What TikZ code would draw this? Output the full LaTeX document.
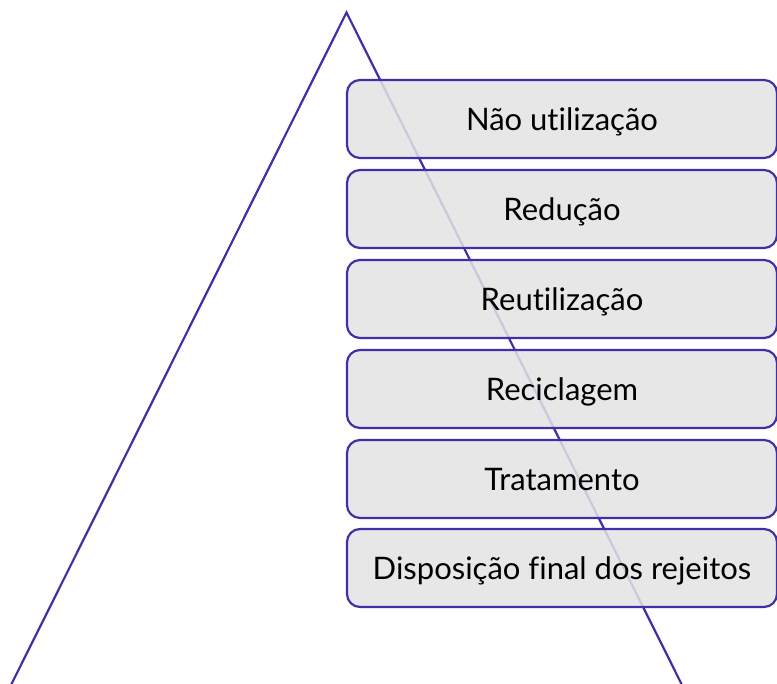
\documentclass[tikz,border=0pt]{standalone}
\usepackage{fontspec}
\setmainfont{Lato}[Ligatures=NoCommon]
\usetikzlibrary{calc}
\definecolor{edge}{RGB}{64,48,168}
\definecolor{boxfill}{RGB}{227,227,227}
\begin{document}
\begin{tikzpicture}[x=1pt,y=-1pt,
  level/.style={draw=edge,line width=2.2pt,fill=boxfill,fill opacity=0.85,text opacity=1,
    rounded corners=13pt,minimum width=430pt,minimum height=78pt,inner sep=0pt,
    font=\fontsize{31}{36}\selectfont,text=black,text depth=0pt},
  tri/.style={draw=edge,line width=2.2pt,line join=miter}]
\useasboundingbox (0,0) rectangle (777,684);
\clip (0,0) rectangle (777,684);
\coordinate (apex) at (346.5,12.5);
\coordinate (bl) at (11.5,684);
\coordinate (br) at (681.5,684);
\draw[tri] ($(apex)!1.05!(bl)$) -- (apex) -- ($(apex)!1.05!(br)$);
\node[level] (n1) at (562,119) {Não utilização};
\node[level] (n2) at (562,209) {Redução};
\node[level] (n3) at (562,299) {Reutilização};
\node[level] (n4) at (562,389) {Reciclagem};
\node[level] (n5) at (562,479) {Tratamento};
\node[level] (n6) at (562,568) {Disposição final dos rejeitos};
\end{tikzpicture}
\end{document}
